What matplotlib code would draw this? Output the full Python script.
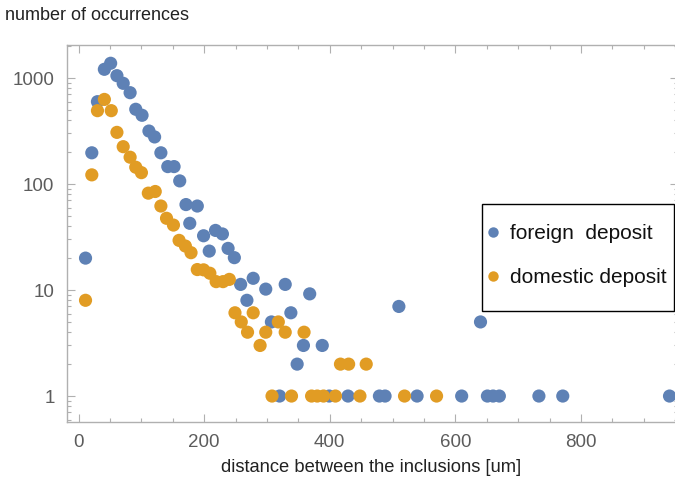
import matplotlib
matplotlib.use("Agg")
import matplotlib.pyplot as plt
from matplotlib.lines import Line2D
from matplotlib.patches import Rectangle
from matplotlib.ticker import LogLocator, FixedLocator, NullFormatter

plt.rcParams['font.family'] = ['Liberation Sans', 'DejaVu Sans']

# foreign deposit
foreign_x = [11, 21, 30, 41, 51, 61, 71, 82, 91, 101, 112, 121, 131, 142, 152,
             161, 171, 177, 189, 199, 208, 218, 229, 238, 248, 258, 268, 278,
             298, 307, 320, 329, 338, 348, 358, 368, 388, 399, 429, 479, 488,
             510, 539, 610, 640, 651, 660, 670, 733, 771, 941]
foreign_y = [20, 197, 598, 1208, 1377, 1052, 891, 727, 507, 445, 316, 278, 197,
             146, 146, 107, 64, 42.6, 62, 32.5, 23.3, 36.5, 33.8, 24.7, 20.2,
             11.3, 8, 12.9, 10.2, 5, 1, 11.3, 6.1, 2, 3, 9.2, 3, 1, 1, 1, 1,
             7, 1, 1, 5, 1, 1, 1, 1, 1, 1]

# domestic deposit
domestic_x = [11, 21, 30, 41, 52, 61, 71, 82, 91, 100, 111, 122, 131, 140, 151,
              160, 170, 179, 189, 199, 209, 219, 230, 240, 249, 259, 269, 278,
              289, 298, 308, 318, 329, 339, 359, 371, 380, 390, 409, 417, 430,
              448, 458, 519, 570]
domestic_y = [8, 122, 492, 628, 492, 307, 225, 179, 144, 128, 82, 85, 62, 47.5,
              41, 29.4, 26, 22.5, 15.6, 15.5, 14.4, 12, 12, 12.6, 6.1, 5, 4,
              6.1, 3, 4, 1, 5, 4, 1, 4, 1, 1, 1, 1, 2, 2, 1, 2, 1, 1]

series_labels = ["foreign  deposit", "domestic deposit"]
x_ticks = [0, 200, 400, 600, 800]
y_ticks = [1, 10, 100, 1000]
y_tick_labels = ["1", "10", "100", "1000"]

BLUE = "#5E81B5"
ORANGE = "#E19C24"
W, H = 675, 487

fig = plt.figure(figsize=(W / 100, H / 100), dpi=100)
ax = fig.add_axes([67 / W, 1 - 422 / H, (678 - 67) / W, (422 - 45) / H])

ax.scatter(foreign_x, foreign_y, s=90, color=BLUE, edgecolors='none', zorder=3)
ax.scatter(domestic_x, domestic_y, s=90, color=ORANGE, edgecolors='none', zorder=4)

ax.set_yscale('log')
ax.set_xlim(-18.5, 954.5)
ax.set_ylim(0.569, 2048)

ax.xaxis.set_major_locator(FixedLocator(x_ticks))
ax.xaxis.set_minor_locator(FixedLocator(list(range(0, 1000, 50))))
ax.set_xticklabels([str(v) for v in x_ticks])
ax.yaxis.set_major_locator(FixedLocator(y_ticks))
ax.set_yticklabels(y_tick_labels)
ax.yaxis.set_minor_locator(LogLocator(base=10, subs=range(2, 10)))
ax.yaxis.set_minor_formatter(NullFormatter())

spine_col = "#b0b0b0"
for sp in ax.spines.values():
    sp.set_color(spine_col)
    sp.set_linewidth(1.0)

ax.tick_params(which='both', direction='in', top=True, right=True,
               color=spine_col, width=0.8)
ax.tick_params(which='major', length=5.5)
ax.tick_params(which='minor', length=3)
ax.tick_params(axis='both', which='major', labelsize=13.5, labelcolor="#5c5c5c")
ax.tick_params(axis='y', pad=9)
ax.tick_params(axis='x', pad=8.5)

fig.text(5 / W, 1 - 15 / H, "number of occurrences", ha='left', va='center',
         fontsize=13, color="#222222")
fig.text(371.5 / W, 1 - 468 / H, "distance between the inclusions [um]",
         ha='center', va='center', fontsize=13.2, color="#222222")

# legend
handles = [Line2D([], [], linestyle='none', marker='o', markersize=7.5,
                  markerfacecolor=c, markeredgecolor='none') for c in (BLUE, ORANGE)]
fig.add_artist(Rectangle((482 / W, 1 - 311 / H), (673.5 - 482) / W, (311 - 204) / H,
                         transform=fig.transFigure, facecolor='white',
                         edgecolor='black', linewidth=1.0, zorder=1))
leg = fig.legend(handles, series_labels, loc='upper left',
                 bbox_to_anchor=(488 / W, 1 - 224 / H), bbox_transform=fig.transFigure,
                 frameon=False, borderpad=0, borderaxespad=0, handlelength=0.5,
                 handletextpad=0.55, labelspacing=1.2, fontsize=15)
leg.set_zorder(5)
for t in leg.get_texts():
    t.set_color("#111111")

fig.savefig("out.png", dpi=100)
